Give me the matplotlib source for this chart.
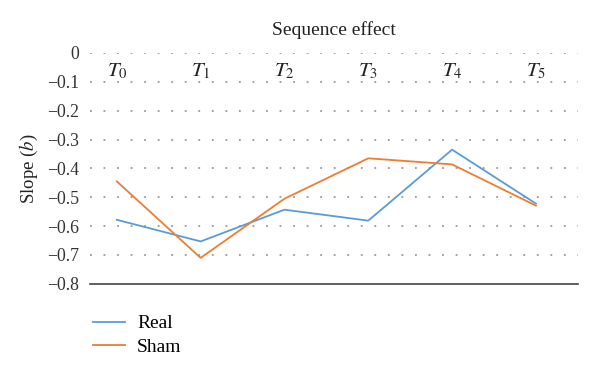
import matplotlib
matplotlib.use("Agg")
import matplotlib.pyplot as plt

# === Données ===
etapes = ["$T_0$", "$T_1$", "$T_2$", "$T_3$", "$T_4$", "$T_5$"]
real = [-0.578, -0.653, -0.543, -0.581, -0.335, -0.522]
sham = [-0.445, -0.710, -0.505, -0.365, -0.386, -0.529]
yticks = [0, -0.1, -0.2, -0.3, -0.4, -0.5, -0.6, -0.7, -0.8]

plt.rcParams['font.family'] = ['Liberation Serif', 'DejaVu Serif']
plt.rcParams['mathtext.fontset'] = 'stix'
plt.rcParams['axes.unicode_minus'] = True

fig = plt.figure(figsize=(6, 3.73), dpi=100)
ax = fig.add_axes([0.15, 0.239, 0.813, 0.619])

x = list(range(len(etapes)))
ax.plot(x, real, color='#5B9BD5', linewidth=1.3, label='Real')
ax.plot(x, sham, color='#ED7D31', linewidth=1.3, label='Sham')

ax.set_xlim(-0.32, 5.5)
ax.set_ylim(-0.8, 0)
ax.set_yticks(yticks)
ax.set_yticklabels(["0" if v == 0 else f"\u2212{abs(v):.1f}" for v in yticks], fontsize=12.8)
ax.tick_params(axis='y', length=0, pad=8, colors='#333333')
ax.set_xticks([])

# grille pointillée
for v in yticks[:-1]:
    ax.axhline(v, color='#999999', linestyle=(0, (1, 6.5)), linewidth=1.3, zorder=0)

for s in ['top', 'right', 'left']:
    ax.spines[s].set_visible(False)
ax.spines['bottom'].set_color('#444444')
ax.spines['bottom'].set_linewidth(1.2)

# étiquettes des catégories sous l'axe à 0
for i, lab in enumerate(etapes):
    ax.text(i, -0.03, lab, ha='center', va='top', fontsize=15, color='#222222')

ax.set_title("Sequence effect", fontsize=14, pad=13, color='#222222')
ax.set_ylabel("Slope ($b$)", fontsize=13.5, color='#222222', labelpad=5)

fig.legend(loc='upper left', bbox_to_anchor=(0.125, 0.203), frameon=False,
           fontsize=14, handlelength=1.65, handletextpad=0.65, labelspacing=0.3)

plt.savefig("out.png", dpi=100)
